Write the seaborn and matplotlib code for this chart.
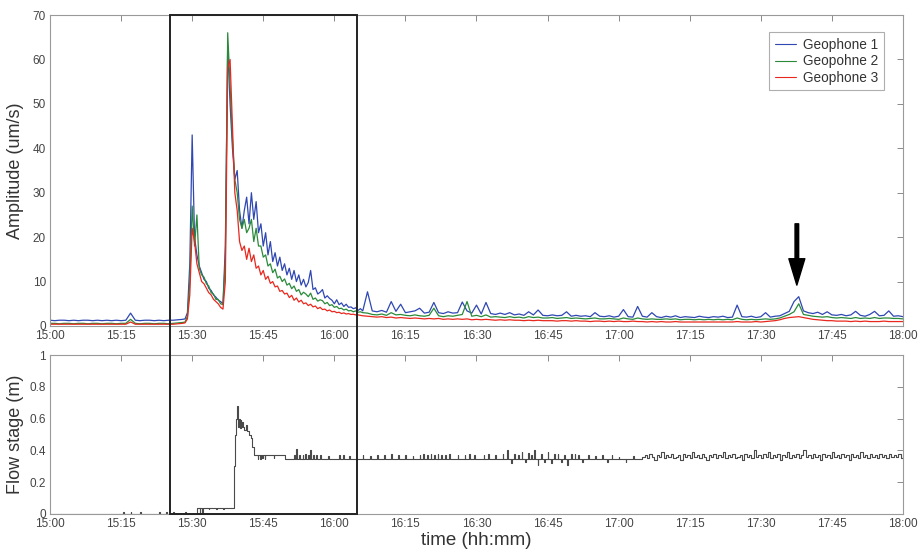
import numpy as np
import pandas as pd
import matplotlib
matplotlib.use("Agg")
import matplotlib.pyplot as plt
import seaborn as sns
from matplotlib.patches import Rectangle
from matplotlib.transforms import blended_transform_factory

# ---------------- data (time in minutes after 15:00) ----------------
tick_labels = ["15:00", "15:15", "15:30", "15:45", "16:00", "16:15", "16:30",
               "16:45", "17:00", "17:15", "17:30", "17:45", "18:00"]
series_names = ["Geophone 1", "Geopohne 2", "Geophone 3"]
series_colors = ["#2f47b3", "#2a8a3a", "#e8281e"]

# segment 1: 15:00-15:28 (1 min), segment 2: 15:28.5-16:06 (0.5 min), segment 3: 16:07-18:00 (1 min)
geo1_pre = [1.3, 1.2, 1.3, 1.3, 1.2, 1.3, 1.2, 1.3, 1.3, 1.2, 1.3, 1.2, 1.3, 1.2, 1.3,
            1.2, 1.3, 2.9, 1.3, 1.2, 1.3, 1.3, 1.2, 1.3, 1.2, 1.3, 1.3, 1.4, 1.5]
geo2_pre = [0.6, 0.6, 0.5, 0.6, 0.6, 0.5, 0.6, 0.6, 0.5, 0.6, 0.6, 0.5, 0.6, 0.6, 0.5,
            0.6, 0.6, 1.5, 0.6, 0.5, 0.6, 0.6, 0.5, 0.6, 0.6, 0.5, 0.6, 0.7, 0.8]
geo3_pre = [0.4, 0.4, 0.4, 0.4, 0.4, 0.4, 0.4, 0.4, 0.4, 0.4, 0.4, 0.4, 0.4, 0.4, 0.4,
            0.4, 0.4, 0.9, 0.4, 0.4, 0.4, 0.4, 0.4, 0.4, 0.4, 0.4, 0.4, 0.5, 0.6]

geo1_event = [1.6, 3.0, 14, 43, 20, 16, 13.5, 12, 10.5, 10, 8.5, 8, 7, 6.5, 5.8, 5.5, 5.0,
              18, 63, 50, 40, 33, 35, 26, 22, 26, 29, 23, 30, 24, 28, 21, 23, 18, 21, 16,
              19, 14.5, 16.5, 13.5, 15.5, 12.5, 14, 11.5, 13, 10.5, 12.5, 10, 11.5, 9.2, 10.5,
              8.8, 9.8, 12.5, 8.2, 8.6, 7.2, 7.6, 8.2, 6.3, 6.8, 6.2, 5.8, 5.0, 5.9, 4.8,
              5.2, 4.4, 4.9, 4.2, 4.3, 3.9, 4.1, 3.5, 3.9, 3.4]
geo2_event = [0.9, 2.2, 10, 27, 18, 25, 13, 11.5, 11, 9.5, 9, 7.5, 7.2, 6, 6, 5, 4.8,
              15, 66, 54, 42, 33, 30, 24, 22, 24, 21, 22, 24, 19, 22, 18, 18, 15.5, 16, 13.5,
              14, 12, 12.8, 10.8, 11.2, 10, 10.6, 9.2, 9.6, 8.4, 9, 7.8, 8.2, 7, 7.6, 7.2,
              6.6, 7.4, 6, 6.3, 5.6, 5.9, 5.7, 5.0, 5.3, 4.6, 4.8, 4.2, 4.4, 3.9, 4.0, 3.6,
              3.8, 3.4, 3.5, 3.2, 3.4, 3.1, 3.2, 3.0]
geo3_event = [0.7, 1.6, 7, 22, 19, 14, 12, 10, 9.5, 8.5, 7.5, 7, 6, 5.5, 5, 4.2, 3.8,
              10, 58, 60, 45, 30, 26, 19, 17, 18, 15, 17.5, 14.5, 16, 13, 13.5, 11.5, 12.5,
              10.5, 11.2, 9.6, 10, 8.8, 9, 7.8, 8, 7.2, 7.4, 6.4, 6.9, 5.8, 6.3, 5.4, 5.8,
              5.0, 5.2, 4.6, 4.9, 4.3, 4.5, 3.9, 4.2, 3.7, 3.8, 3.4, 3.6, 3.2, 3.3, 3.0, 3.1,
              2.8, 2.95, 2.7, 2.8, 2.6, 2.65, 2.5, 2.5, 2.4, 2.3]

geo1_tail = [7.7, 3.4, 3.2, 3.5, 3.1, 5.5, 3.3, 4.9, 3.0, 3.2,
             3.4, 4.0, 2.9, 3.1, 5.3, 3.0, 2.8, 3.2, 2.9, 3.0,
             5.4, 3.4, 2.9, 4.7, 2.7, 5.3, 2.8, 2.6, 2.9, 2.6,
             3.0, 2.5, 2.7, 2.4, 3.2, 2.5, 3.6, 2.4, 2.3, 2.5,
             2.3, 2.4, 3.2, 2.2, 2.4, 2.2, 2.3, 2.1, 3.0, 2.2,
             2.1, 2.3, 2.0, 2.2, 3.7, 2.1, 2.0, 4.4, 2.2, 2.0,
             3.0, 2.1, 1.9, 2.2, 2.0, 2.3, 1.9, 2.1, 2.0, 1.9,
             2.2, 2.0, 1.9, 2.1, 2.0, 2.2, 1.9, 2.0, 4.7, 2.1,
             2.0, 2.2, 1.9, 2.1, 3.0, 2.0, 2.2, 2.3, 2.8, 3.3,
             5.5, 6.6, 3.4, 3.0, 2.8, 3.1, 2.6, 3.2, 2.5, 2.4,
             2.6, 2.3, 2.5, 3.3, 2.4, 2.2, 2.6, 3.3, 2.3, 2.4,
             3.4, 2.2, 2.3, 2.1]
geo2_tail = [2.9, 2.6, 2.5, 2.7, 2.4, 3.0, 2.5, 2.6, 2.4, 2.3,
             2.5, 2.3, 2.2, 2.4, 4.0, 2.3, 2.1, 2.3, 2.2, 2.4,
             2.6, 5.5, 2.2, 2.4, 2.1, 2.5, 2.0, 2.1, 2.0, 1.9,
             2.1, 1.9, 2.0, 1.8, 2.1, 1.9, 2.0, 1.8, 1.8, 1.9,
             1.7, 1.8, 1.9, 1.7, 1.8, 1.7, 1.6, 1.7, 1.8, 1.6,
             1.6, 1.7, 1.6, 1.5, 1.8, 1.6, 1.5, 1.8, 1.6, 1.5,
             1.6, 1.5, 1.5, 1.6, 1.5, 1.6, 1.4, 1.5, 1.5, 1.4,
             1.5, 1.4, 1.5, 1.4, 1.5, 1.4, 1.5, 1.4, 1.8, 1.5,
             1.4, 1.5, 1.4, 1.5, 1.6, 1.5, 1.6, 1.8, 2.2, 2.6,
             3.2, 5.0, 2.6, 2.4, 2.2, 2.1, 2.0, 2.1, 1.9, 1.8,
             1.9, 1.8, 1.7, 1.9, 1.7, 1.8, 1.7, 1.9, 1.7, 1.8,
             1.8, 1.7, 1.7, 1.6]
geo3_tail = [2.2, 2.1, 2.0, 2.1, 1.9, 2.0, 1.8, 1.9, 1.8, 1.7,
             1.8, 1.7, 1.6, 1.7, 1.6, 1.7, 1.5, 1.6, 1.5, 1.6,
             1.5, 1.6, 1.4, 1.5, 1.4, 1.5, 1.4, 1.3, 1.4, 1.3,
             1.4, 1.3, 1.3, 1.2, 1.3, 1.2, 1.3, 1.2, 1.2, 1.2,
             1.1, 1.2, 1.2, 1.1, 1.2, 1.1, 1.1, 1.0, 1.1, 1.1,
             1.0, 1.1, 1.0, 1.1, 1.0, 1.0, 1.1, 1.0, 1.0, 0.9,
             1.0, 0.9, 1.0, 0.9, 0.9, 1.0, 0.9, 0.9, 0.9, 0.9,
             0.9, 0.9, 0.9, 0.9, 0.9, 0.9, 0.9, 0.9, 1.0, 0.9,
             0.9, 0.9, 1.0, 0.9, 1.0, 1.1, 1.2, 1.4, 1.7, 1.9,
             2.0, 2.1, 1.9, 1.7, 1.5, 1.4, 1.3, 1.2, 1.2, 1.1,
             1.1, 1.1, 1.0, 1.1, 1.0, 1.1, 1.0, 1.0, 1.0, 1.1,
             1.0, 1.0, 1.0, 1.0]

# flow stage: step breakpoints, narrow spikes, and a dense noisy part after 17:05
flow_base_t = [0.0, 31.0, 38.8, 39.1, 39.3, 39.5, 39.65, 39.8, 40.0, 40.2, 40.4, 40.6,
               40.8, 41.0, 41.4, 41.6, 42.0, 42.4, 42.7, 43.0, 49.6]
flow_base_v = [0.0, 0.04, 0.30, 0.50, 0.60, 0.68, 0.55, 0.60, 0.54, 0.59, 0.55, 0.58,
               0.55, 0.53, 0.56, 0.52, 0.50, 0.48, 0.42, 0.37, 0.345]
flow_spike_t = [15.5, 17.0, 19.0, 23.0, 24.5, 26.0, 28.5, 31.6, 32.1, 33.5, 35.0, 36.5,
                43.8, 44.3, 44.8, 45.3, 47.2,
                51.5, 52.0, 52.6, 53.3, 53.8, 54.4, 54.9, 55.5, 56.2, 57.0, 58.7, 61.0,
                61.8, 63.2, 66.0, 67.5, 69.0, 70.5, 72.0, 73.5, 75.0, 76.5, 78.0, 78.8,
                79.6, 80.3, 81.0, 81.8, 82.6, 83.4, 84.2, 86.0, 87.5, 88.5, 89.5, 91.5,
                92.5, 94.0, 95.5, 96.5, 97.3, 98.0, 98.8, 99.5, 100.2, 100.9, 101.6,
                102.2, 102.9, 103.6, 104.3, 105.0, 105.7, 106.4, 107.1, 107.8, 108.5,
                109.2, 110.0, 110.7, 111.5, 112.3, 113.5, 115.0, 116.5, 117.5, 118.5,
                120.0, 121.5, 123.0]
flow_spike_v = [0.01, 0.01, 0.01, 0.01, 0.01, 0.01, 0.01, 0.0, 0.0, 0.03, 0.03, 0.03,
                0.345, 0.345, 0.35, 0.345, 0.35,
                0.37, 0.41, 0.37, 0.37, 0.375, 0.37, 0.40, 0.37, 0.37, 0.37, 0.365, 0.37,
                0.37, 0.365, 0.37, 0.365, 0.37, 0.37, 0.375, 0.37, 0.37, 0.365, 0.37, 0.375,
                0.37, 0.38, 0.37, 0.375, 0.37, 0.37, 0.375, 0.37, 0.37, 0.375, 0.37, 0.37,
                0.375, 0.37, 0.375, 0.40, 0.32, 0.38, 0.37, 0.39, 0.33, 0.385, 0.37,
                0.40, 0.31, 0.38, 0.33, 0.39, 0.32, 0.375, 0.38, 0.33, 0.37,
                0.31, 0.38, 0.375, 0.37, 0.33, 0.37, 0.365, 0.37, 0.33, 0.37,
                0.36, 0.33, 0.365]
flow_dense = [0.36, 0.37, 0.35, 0.38, 0.36, 0.34, 0.37, 0.36, 0.39, 0.35,
              0.37, 0.36, 0.38, 0.35, 0.36, 0.37, 0.34, 0.38, 0.36, 0.37,
              0.35, 0.39, 0.36, 0.37, 0.35, 0.38, 0.36, 0.34, 0.37, 0.36,
              0.38, 0.35, 0.37, 0.36, 0.39, 0.35, 0.37, 0.36, 0.38, 0.35,
              0.36, 0.37, 0.34, 0.38, 0.36, 0.37, 0.35, 0.40, 0.36, 0.37,
              0.35, 0.38, 0.36, 0.39, 0.35, 0.37, 0.36, 0.38, 0.34, 0.37,
              0.36, 0.39, 0.35, 0.37, 0.36, 0.38, 0.35, 0.37, 0.40, 0.36,
              0.37, 0.35, 0.38, 0.36, 0.37, 0.34, 0.38, 0.36, 0.37, 0.35,
              0.39, 0.36, 0.37, 0.35, 0.38, 0.36, 0.37, 0.34, 0.38, 0.36,
              0.37, 0.35, 0.39, 0.36, 0.37, 0.35, 0.38, 0.36, 0.37, 0.35,
              0.38, 0.36, 0.37, 0.35, 0.38, 0.36, 0.37, 0.36, 0.38, 0.35,
              0.37]

# highlighted window and arrow (minutes after 15:00 / amplitude)
box_t = (25.3, 64.7)
arrow_t = 157.6
arrow_from, arrow_to = 23.0, 9.2

# ---------------- build tables ----------------
rows = []
for name, pre, ev, tail in zip(series_names,
                               [geo1_pre, geo2_pre, geo3_pre],
                               [geo1_event, geo2_event, geo3_event],
                               [geo1_tail, geo2_tail, geo3_tail]):
    t = np.concatenate([np.linspace(0, 28, len(pre)),
                        np.linspace(28.5, 66, len(ev)),
                        np.linspace(67, 180, len(tail))])
    v = np.concatenate([pre, ev, tail])
    rows.append(pd.DataFrame({"t": t, "amp": v, "series": name}))
geo = pd.concat(rows, ignore_index=True)

bt = np.array(flow_base_t)
bv = np.array(flow_base_v)
pts = list(zip(flow_base_t, flow_base_v))
for st, sv in zip(flow_spike_t, flow_spike_v):
    base = bv[np.searchsorted(bt, st, side="right") - 1]
    pts += [(st, sv), (st + 0.15, base)]
pts += list(zip(np.linspace(125, 180, len(flow_dense)), flow_dense))
pts.sort(key=lambda p: p[0])
flow = pd.DataFrame(pts, columns=["t", "stage"])

# ---------------- plotting ----------------
sns.set_style("white")
plt.rcParams["font.family"] = ["Liberation Sans", "DejaVu Sans"]

W, H = 920, 554
fig = plt.figure(figsize=(W / 100, H / 100), dpi=100)
ax1 = fig.add_axes([50 / W, 1 - 326 / H, 853 / W, 311 / H])
ax2 = fig.add_axes([50 / W, 1 - 514 / H, 853 / W, 159 / H])

sns.lineplot(data=geo, x="t", y="amp", hue="series", hue_order=series_names,
             palette=dict(zip(series_names, series_colors)), estimator=None,
             linewidth=0.9, ax=ax1)
sns.lineplot(data=flow, x="t", y="stage", estimator=None, sort=False,
             drawstyle="steps-post", color="#4a4a4a", linewidth=0.8, ax=ax2)

xt = [15 * i for i in range(len(tick_labels))]
for ax in (ax1, ax2):
    ax.set_xlim(0, 180)
    ax.set_xticks(xt)
    ax.set_xticklabels(tick_labels)
    ax.tick_params(direction="in", length=4, width=0.7, top=True, right=True,
                   color="#8a8a8a", labelcolor="#444444", labelsize=8.5, pad=3)
    for sp in ax.spines.values():
        sp.set_color("#9a9a9a")
        sp.set_linewidth(0.8)
    ax.set_xlabel("")

ax1.set_ylim(0, 70)
ax1.set_yticks(range(0, 71, 10))
ax2.set_ylim(0, 1)
ax2.set_yticks([0, 0.2, 0.4, 0.6, 0.8, 1.0])
ax2.set_yticklabels(["0", "0.2", "0.4", "0.6", "0.8", "1"])

ax1.set_ylabel("Amplitude (um/s)", fontsize=13, color="#333333")
ax2.set_ylabel("Flow stage (m)", fontsize=13, color="#333333")
ax1.yaxis.set_label_coords(-0.031, 0.5)
ax2.yaxis.set_label_coords(-0.031, 0.5)
ax2.set_xlabel("time (hh:mm)", fontsize=13.5, color="#333333")
ax2.xaxis.set_label_coords(0.5, -0.115)

handles, labels = ax1.get_legend_handles_labels()
leg = ax1.legend(handles, labels, loc="upper right", bbox_to_anchor=(0.9777, 0.945),
                 borderaxespad=0, fontsize=9.8, frameon=True, fancybox=False,
                 handlelength=1.6, handletextpad=0.5, borderpad=0.4, labelspacing=0.2)
leg.get_frame().set_edgecolor("#9a9a9a")
leg.get_frame().set_linewidth(0.8)
for lh in leg.get_lines():
    lh.set_linewidth(0.8)
for txt in leg.get_texts():
    txt.set_color("#333333")

# arrow marking the later event
ax1.annotate("", xy=(arrow_t, arrow_to), xytext=(arrow_t, arrow_from),
             arrowprops=dict(facecolor="black", edgecolor="black", width=2.6,
                             headwidth=11.5, headlength=19, shrink=0))

# rectangle spanning both panels
trans = blended_transform_factory(ax1.transData, fig.transFigure)
y0 = 1 - 514 / H
y1 = 1 - 15 / H
rect = Rectangle((box_t[0], y0), box_t[1] - box_t[0], y1 - y0, transform=trans,
                 fill=False, edgecolor="#222222", linewidth=1.4, clip_on=False, zorder=10)
fig.add_artist(rect)

fig.savefig("out.png", dpi=100)
